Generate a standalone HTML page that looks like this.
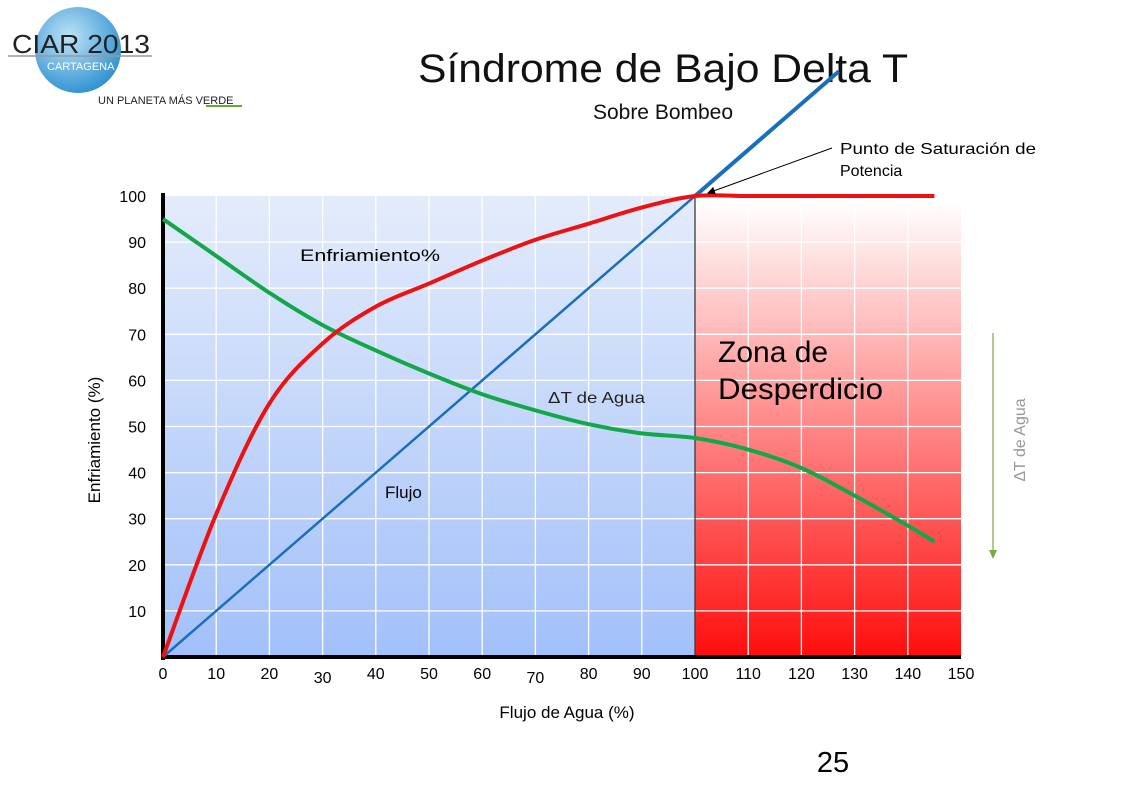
<!DOCTYPE html>
<html><head><meta charset="utf-8"><style>
body{margin:0;background:#fff;width:1122px;height:793px;overflow:hidden;font-family:"Liberation Sans",sans-serif}
svg{position:absolute;left:0;top:0}
</style></head><body>
<svg width="1122" height="793" viewBox="0 0 1122 793">
<defs>
<linearGradient id="gb" x1="0" y1="0" x2="0" y2="1"><stop offset="0" stop-color="#e4ecfb"/><stop offset="1" stop-color="#a2c0fa"/></linearGradient>
<linearGradient id="gr" x1="0" y1="0" x2="0" y2="1"><stop offset="0" stop-color="#ffffff"/><stop offset="1" stop-color="#ff0d0d"/></linearGradient>
<radialGradient id="globe" cx="0.4" cy="0.35" r="0.7"><stop offset="0" stop-color="#bfe3f7"/><stop offset="1" stop-color="#2a8fd0"/></radialGradient>
<marker id="ah" markerWidth="8" markerHeight="8" refX="7" refY="4" orient="auto"><path d="M0,0 L8,4 L0,8z" fill="#000"/></marker>
</defs>
<g>
<circle cx="78" cy="50" r="43" fill="url(#globe)"/>
<line x1="8" y1="56" x2="152" y2="56" stroke="#999" stroke-width="1.5"/>
<text x="12" y="53" font-size="26" fill="#222" textLength="138" lengthAdjust="spacingAndGlyphs">CIAR 2013</text>
<text x="47" y="70" font-size="11" fill="#fff">CARTAGENA</text>
<text x="98" y="104" font-size="11" fill="#222">UN PLANETA MÁS VERDE</text>
<line x1="206" y1="106" x2="242" y2="106" stroke="#6a3" stroke-width="2"/>
</g>
<text x="663" y="82" text-anchor="middle" font-size="40" fill="#111" textLength="490" lengthAdjust="spacingAndGlyphs">Síndrome de Bajo Delta T</text>
<text x="663" y="119" text-anchor="middle" font-size="21" fill="#111">Sobre Bombeo</text>
<g id="plot"></g>
<text x="840" y="154" font-size="16" fill="#000" textLength="196" lengthAdjust="spacingAndGlyphs">Punto de Saturación de</text>
<text x="840" y="176" font-size="16" fill="#000">Potencia</text>
<line x1="832" y1="148" x2="708" y2="193" stroke="#000" stroke-width="1" marker-end="url(#ah)"/>
<text x="718" y="362" font-size="30" fill="#000">Zona de</text>
<text x="718" y="399" font-size="30" fill="#000" textLength="165" lengthAdjust="spacingAndGlyphs">Desperdicio</text>
<text x="300" y="261" font-size="17" fill="#000" textLength="140" lengthAdjust="spacingAndGlyphs">Enfriamiento%</text>
<text x="548" y="403" font-size="16" fill="#222" textLength="97" lengthAdjust="spacingAndGlyphs">ΔT de Agua</text>
<text x="385" y="498" font-size="17" fill="#000">Flujo</text>
<text x="100" y="440" font-size="17" fill="#000" text-anchor="middle" transform="rotate(-90 100 440)">Enfriamiento (%)</text>
<text x="567" y="718" font-size="17" fill="#000" text-anchor="middle">Flujo de Agua (%)</text>
<line x1="993" y1="333" x2="993" y2="552" stroke="#77aa44" stroke-width="1.2"/>
<path d="M989,550 L997,550 L993,559z" fill="#77aa44"/>
<text x="1025" y="440" font-size="16" fill="#999" text-anchor="middle" transform="rotate(-90 1025 440)">ΔT de Agua</text>
<text x="833" y="772" font-size="29" fill="#000" text-anchor="middle">25</text>
</svg>
<script>
const xCats=[0,10,20,30,40,50,60,70,80,90,100,110,120,130,140,150];
const yTicks=[10,20,30,40,50,60,70,80,90,100];
const coolX=[0,10,20,30,40,50,60,70,80,90,100,110,120,130,140,145];
const coolY=[0,31,55,68,76,81,86,90.5,94,97.5,100,100,100,100,100,100];
const dtX=[0,10,20,30,40,50,60,70,80,90,100,110,120,130,140,145];
const dtY=[95,87,79,72,66.5,61.5,57,53.5,50.5,48.5,47.5,45,41,35,28.5,25];
const flowX=[0,127];
const flowY=[0,127];
const NS='http://www.w3.org/2000/svg';
const X=v=>163+v*5.32, Y=v=>657-v*4.61;
const g=document.getElementById('plot');
function mk(t,a){const e=document.createElementNS(NS,t);for(const k in a)e.setAttribute(k,a[k]);g.appendChild(e);return e;}
let r=mk('rect',{x:X(0),y:Y(100),width:X(100)-X(0),height:Y(0)-Y(100),fill:'url(#gb)'});


r=mk('rect',{x:X(100),y:Y(99),width:X(150)-X(100),height:Y(0)-Y(99),fill:'url(#gr)'});


xCats.forEach(v=>{if(v>0&&v<150){const l=mk('line',{x1:X(v),x2:X(v),y1:Y(100),y2:Y(0),stroke:'#fff','stroke-width':1.3});

}
const t=mk('text',{x:X(v),y:(v===30||v===70)?683:679,'font-size':16,'text-anchor':'middle',fill:'#000'});t.textContent=v;

});
yTicks.forEach(v=>{if(v<100){const l=mk('line',{x1:X(0),x2:X(150),y1:Y(v),y2:Y(v),stroke:'#fff','stroke-width':1.3});

}
const t=mk('text',{x:146,y:Y(v)+6,'font-size':16,'text-anchor':'end',fill:'#000'});t.textContent=v;

});
let l=mk('line',{x1:X(100),x2:X(100),y1:Y(100),y2:Y(0),stroke:'#000','stroke-width':1});


l=mk('line',{x1:X(0),x2:X(0),y1:Y(100)-3,y2:Y(0)+3,stroke:'#000','stroke-width':4});


l=mk('line',{x1:X(0)-2,x2:X(150),y1:Y(0),y2:Y(0),stroke:'#000','stroke-width':4});


function path(xs,ys){let d='';xs.forEach((x,i)=>{d+=(i?'L':'M')+X(x)+','+Y(ys[i]);});return d;}
function smooth(xs,ys){const p=xs.map((x,i)=>[X(x),Y(ys[i])]);let d='M'+p[0];for(let i=0;i<p.length-1;i++){const p0=p[i-1]||p[i],p1=p[i],p2=p[i+1],p3=p[i+2]||p2;d+=`C${p1[0]+(p2[0]-p0[0])/6},${p1[1]+(p2[1]-p0[1])/6} ${p2[0]-(p3[0]-p1[0])/6},${p2[1]-(p3[1]-p1[1])/6} ${p2[0]},${p2[1]}`;}return d;}
let s=mk('path',{d:path(flowX,flowY),stroke:'#1a6fbd','stroke-width':2.5,fill:'none'});


s=mk('path',{d:path([100,flowX[1]],[100,flowY[1]]),stroke:'#1a6fbd','stroke-width':4,fill:'none'});


s=mk('path',{d:smooth(dtX,dtY),stroke:'#12a84a','stroke-width':4,fill:'none'});


s=mk('path',{d:smooth(coolX,coolY),stroke:'#ee1111','stroke-width':4,fill:'none'});


</script>
</body></html>
